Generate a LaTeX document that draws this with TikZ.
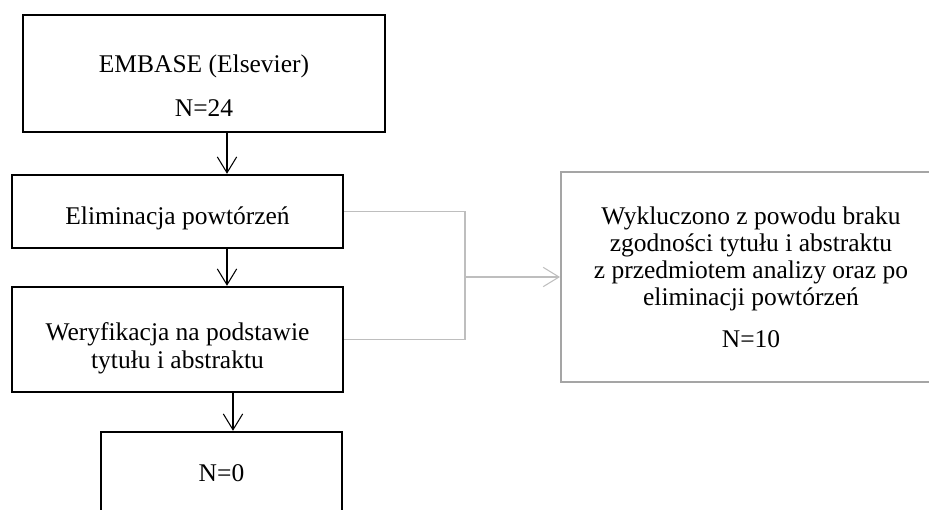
\documentclass[tikz,border=0pt]{standalone}
\usepackage{fontspec}
\setmainfont{Liberation Serif}
\usetikzlibrary{positioning, arrows.meta}
\definecolor{lnkgray}{RGB}{190,190,190}
\definecolor{boxgray}{RGB}{165,165,165}
\tikzset{
    flowbox/.style={rectangle, draw=black, fill=white, line width=1.4pt, align=center, font=\fontsize{14.5}{15.5}\selectfont, inner sep=0pt},
    exclbox/.style={rectangle, draw=boxgray, fill=white, line width=1.1pt, align=center, font=\fontsize{14.5}{15.5}\selectfont, inner sep=0pt},
    arr/.style={-{Straight Barb[length=9pt, width=11pt]}, line width=0.6pt, black},
    arrgray/.style={-{Straight Barb[length=9pt, width=11pt]}, line width=0.6pt, lnkgray},
    lnkline/.style={line width=0.6pt, lnkgray}
}
\begin{document}
\begin{tikzpicture}
    \useasboundingbox (0,0) rectangle (18.58,10.18);
    % main column
    \node[flowbox, minimum width=7.24cm, minimum height=2.34cm, text height=49pt] (embase) at (4.08,8.71) {EMBASE (Elsevier)\\[9.5pt]N=24};
    \node[flowbox, minimum width=6.62cm, minimum height=1.46cm, text height=18pt] (elim) at (3.55,5.95) {Eliminacja powtórzeń};
    \node[flowbox, minimum width=6.62cm, minimum height=2.10cm, text height=35.8pt] (verif) at (3.55,3.39) {Weryfikacja na podstawie\\tytułu i abstraktu};
    \node[flowbox, minimum width=4.82cm, minimum height=1.64cm] (result) at (4.43,0.72) {N=0};
    % excluded
    \node[exclbox, minimum width=7.6cm, minimum height=4.2cm] (excl) at (15.02,4.64) {Wykluczono z powodu braku\\zgodności tytułu i abstraktu\\z przedmiotem analizy oraz po\\eliminacji powtórzeń\\[8pt]N=10};
    \coordinate (colA) at (4.54,0);
    \coordinate (colB) at (4.66,0);
    \coordinate (join) at (9.3,4.64);
    \draw[arr] (embase.south -| colA) -- (elim.north -| colA);
    \draw[arr] (elim.south -| colA) -- (verif.north -| colA);
    \draw[arr] (verif.south -| colB) -- (result.north -| colB);
    \draw[lnkline] (elim.east) -| (join) |- (verif.east);
    \draw[arrgray] (join) -- (join -| excl.west);
\end{tikzpicture}
\end{document}
